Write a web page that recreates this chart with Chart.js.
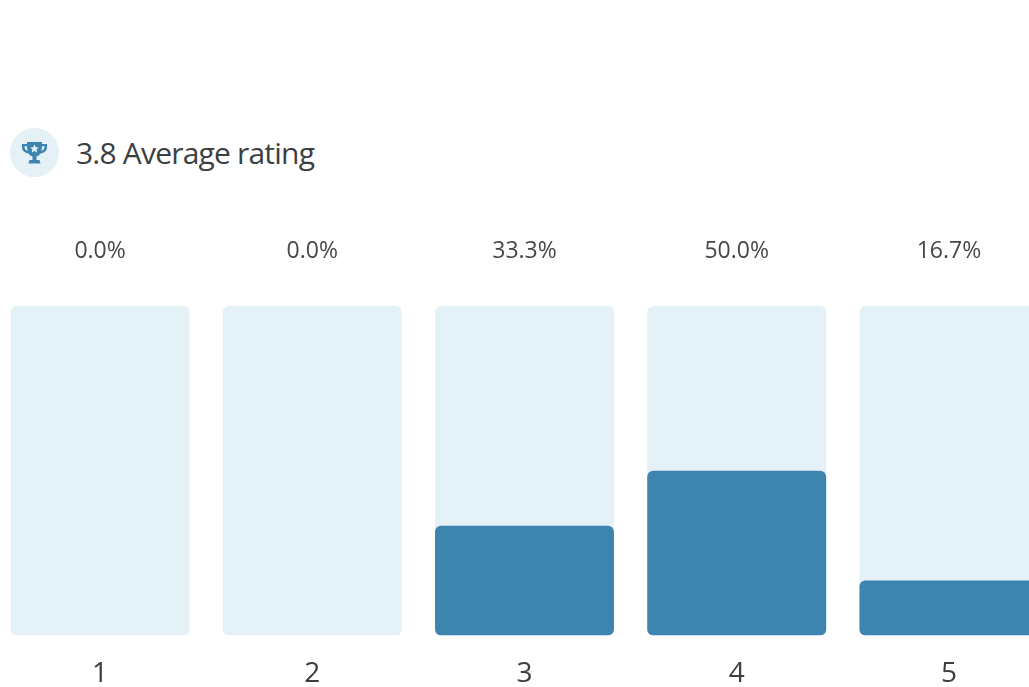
<!DOCTYPE html>
<html>
<head>
<meta charset="utf-8">
<script src="https://cdn.jsdelivr.net/npm/chart.js@4"></script>
<style>
    html, body { margin: 0; height: 100%; background: #fff; overflow: hidden; }
    #header { position: absolute; left: 10px; top: 128px; display: flex; align-items: center; }
    #badge { width: 49px; height: 49px; border-radius: 50%; background: #e4f1f7; display: flex; align-items: center; justify-content: center; }
    #title { margin-left: 17px; font: 30px "Open Sans", sans-serif; letter-spacing: -0.8px; color: #3c3f42; }
    #wrap { position: absolute; left: -20px; top: 0; width: 1100px; height: 705px; }
</style>
</head>
<body>
<div id="header">
    <div id="badge">
        <svg width="27" height="24" viewBox="0 0 27 24">
            <path fill="#3d85af" d="M6 1h15v2h5v3c0 4-3 6-6.500 6.500-1 1.500-2.500 2.500-4 3V19h3l1 3.500H7.500l1-3.500h3v-3.500c-1.500-.5-3-1.500-4-3C4 12 1 10 1 6V3h5zM3.500 5.200V6c0 2 1.200 3.300 3.200 4-.5-1.500-.7-3.200-.7-4.800zm20 0H21c0 1.600-.2 3.300-.7 4.800 2-.7 3.200-2 3.200-4z"/>
            <path fill="#e4f1f7" d="M13.500 3.500l1.300 2.700 2.900.4-2.100 2 .5 2.900-2.600-1.400-2.600 1.400.5-2.900-2.100-2 2.900-.4z"/>
        </svg>
    </div>
    <div id="title">3.8 Average rating</div>
</div>
<div id="wrap"><canvas id="ratingChart"></canvas></div>
<script>
const ratings = ['1', '2', '3', '4', '5'];
const shares = [0.0, 0.0, 33.3, 50.0, 16.7];
const trackValues = [100, 100, 100, 100, 100];

// percent text above each column
const shareLabels = {
    id: 'shareLabels',
    afterDraw(chart) {
        const { ctx, scales } = chart;
        ctx.save();
        ctx.font = '23px "Open Sans", sans-serif';
        ctx.fillStyle = '#45484b';
        ctx.textAlign = 'center';
        ctx.textBaseline = 'middle';
        shares.forEach((share, i) => {
            ctx.fillText(share.toFixed(1) + '%', scales.x.getPixelForValue(i), 251);
        });
        ctx.restore();
    }
};

const ratingCtx = document.getElementById('ratingChart').getContext('2d');
new Chart(ratingCtx, {
    type: 'bar',
    data: {
        labels: ratings,
        datasets: [
            {
                label: 'Share',
                data: shares,
                backgroundColor: '#3d85af',
                borderRadius: 6,
                borderSkipped: false,
                order: 1
            },
            {
                label: 'Track',
                data: trackValues,
                backgroundColor: '#e4f1f7',
                borderRadius: 6,
                borderSkipped: false,
                order: 2
            }
        ]
    },
    options: {
        responsive: true,
        maintainAspectRatio: false,
        animation: false,
        layout: { padding: { top: 306, right: 25, left: 14, bottom: 0 } },
        datasets: { bar: { grouped: false, barPercentage: 0.8433, categoryPercentage: 1 } },
        plugins: {
            legend: { display: false },
            tooltip: { enabled: false }
        },
        scales: {
            x: {
                grid: { display: false },
                border: { display: false },
                ticks: {
                    color: '#3c3f42',
                    font: { family: '"Open Sans", sans-serif', size: 28 },
                    padding: 14,
                    maxRotation: 0
                }
            },
            y: {
                display: false,
                min: 0,
                max: 100
            }
        }
    },
    plugins: [shareLabels]
});
</script>
</body>
</html>
